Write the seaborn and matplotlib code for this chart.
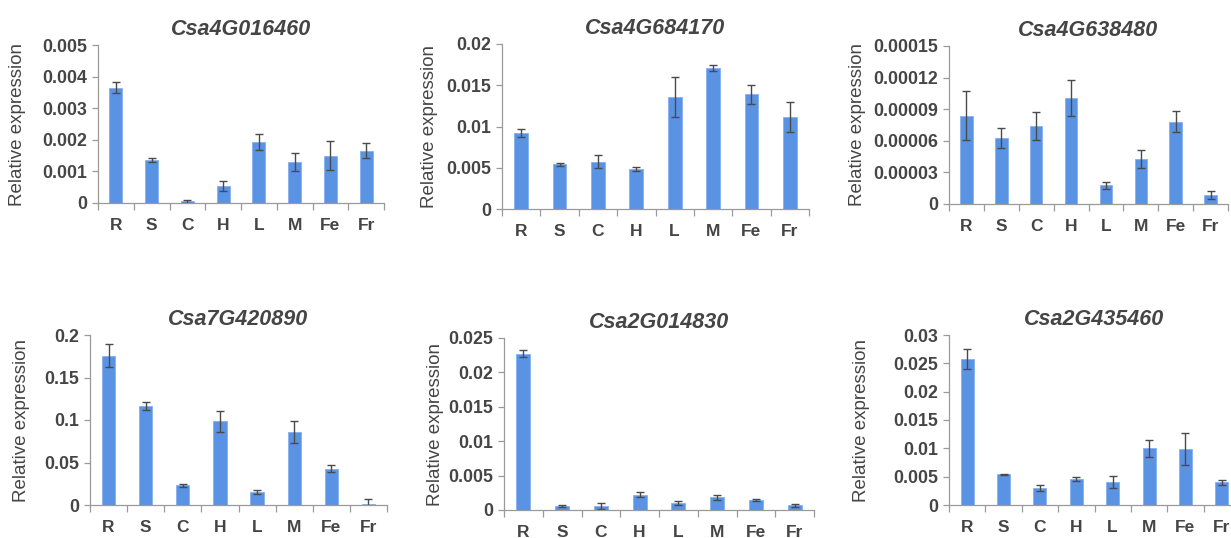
import matplotlib
matplotlib.use("Agg")
import matplotlib.pyplot as plt
import seaborn as sns
import pandas as pd
import numpy as np

sns.set_theme(style="white")
plt.rcParams['font.family'] = ['Liberation Sans', 'DejaVu Sans']

tissues = ["R", "S", "C", "H", "L", "M", "Fe", "Fr"]

genes = ["Csa4G016460", "Csa4G684170", "Csa4G638480",
         "Csa7G420890", "Csa2G014830", "Csa2G435460"]

expr_016460 = [0.00365, 0.00137, 0.00005, 0.00053, 0.00193, 0.00130, 0.00150, 0.00165]
err_016460 = [0.00017, 0.00006, 0.00005, 0.00016, 0.00024, 0.00028, 0.00046, 0.00024]

expr_684170 = [0.00919, 0.00543, 0.00575, 0.00482, 0.01360, 0.01709, 0.01389, 0.01117]
err_684170 = [0.00050, 0.00016, 0.00080, 0.00024, 0.00240, 0.00040, 0.00120, 0.00180]

expr_638480 = [0.0000840, 0.0000625, 0.0000739, 0.0001007, 0.0000177, 0.0000426, 0.0000783, 0.0000085]
err_638480 = [0.0000230, 0.0000092, 0.0000130, 0.0000168, 0.0000035, 0.0000082, 0.0000098, 0.0000038]

expr_420890 = [0.1757, 0.1160, 0.0231, 0.0984, 0.0153, 0.0863, 0.0427, 0.0008]
err_420890 = [0.0133, 0.0047, 0.0020, 0.0120, 0.0027, 0.0130, 0.0043, 0.0059]

expr_014830 = [0.02273, 0.00058, 0.00058, 0.00222, 0.00097, 0.00184, 0.00150, 0.00068]
err_014830 = [0.00050, 0.00010, 0.00050, 0.00034, 0.00030, 0.00040, 0.00015, 0.00024]

expr_435460 = [0.02576, 0.00541, 0.00300, 0.00465, 0.00406, 0.01000, 0.00982, 0.00400]
err_435460 = [0.00180, 0.00010, 0.00060, 0.00035, 0.00100, 0.00150, 0.00280, 0.00047]

y_ticks = [
    ["0", "0.001", "0.002", "0.003", "0.004", "0.005"],
    ["0", "0.005", "0.01", "0.015", "0.02"],
    ["0", "0.00003", "0.00006", "0.00009", "0.00012", "0.00015"],
    ["0", "0.05", "0.1", "0.15", "0.2"],
    ["0", "0.005", "0.01", "0.015", "0.02", "0.025"],
    ["0", "0.005", "0.01", "0.015", "0.02", "0.025", "0.03"],
]

values = [expr_016460, expr_684170, expr_638480, expr_420890, expr_014830, expr_435460]
errors = [err_016460, err_684170, err_638480, err_420890, err_014830, err_435460]

# axes boxes in pixels: left, right, top, bottom
W, H = 1231, 538
boxes = [
    (98, 384, 45, 203),
    (502, 809, 44, 209),
    (949, 1228, 46, 204),
    (90, 387, 335, 505),
    (504, 814, 338, 510),
    (949, 1240, 335, 505),
]
ylabel_x = [18, 430, 857, 22, 435, 862]

text_col = "#454545"
axis_col = "#9a9a9a"
bar_col = "#5b93e4"

fig = plt.figure(figsize=(W / 100, H / 100), dpi=100)

for i in range(6):
    l, r, t, b = boxes[i]
    ax = fig.add_axes([l / W, 1 - b / H, (r - l) / W, (b - t) / H])
    df = pd.DataFrame({"tissue": tissues, "value": values[i]})
    sns.barplot(data=df, x="tissue", y="value", order=tissues, ax=ax,
                color=bar_col, saturation=1, width=0.36, errorbar=None,
                edgecolor="#86b0ee", linewidth=0.6)
    ax.errorbar(np.arange(len(tissues)), values[i], yerr=errors[i], fmt="none",
                ecolor="#4a4a4a", elinewidth=1.0, capsize=3, capthick=1.0)
    ticks = [float(s) for s in y_ticks[i]]
    ax.set_ylim(0, ticks[-1])
    ax.set_xlim(-0.5, len(tissues) - 0.5)
    ax.set_yticks(ticks)
    ax.set_yticklabels(y_ticks[i])
    ax.set_xticks(np.arange(len(tissues)))
    ax.set_xticklabels(tissues)
    ax.set_xticks(np.arange(len(tissues) + 1) - 0.5, minor=True)
    ax.tick_params(axis="x", which="major", length=0, pad=11, labelsize=12.5,
                   labelcolor=text_col)
    ax.tick_params(axis="x", which="minor", length=5, width=0.9, color=axis_col,
                   direction="out", bottom=True)
    ax.tick_params(axis="y", length=4, width=0.9, color=axis_col, direction="out",
                   left=True, pad=4, labelsize=12.8, labelcolor=text_col)
    for lab in ax.get_xticklabels() + ax.get_yticklabels():
        lab.set_fontweight("bold")
    for s in ["top", "right"]:
        ax.spines[s].set_visible(False)
    for s in ["left", "bottom"]:
        ax.spines[s].set_color(axis_col)
        ax.spines[s].set_linewidth(0.9)
    ax.set_xlabel("")
    ax.set_ylabel("")
    ax.set_title(genes[i], fontsize=15.5, fontweight="bold", fontstyle="italic",
                 color=text_col, pad=7)
    fig.text(ylabel_x[i] / W, 1 - ((t + b) / 2) / H, "Relative expression",
             rotation=90, ha="center", va="center", fontsize=13.5,
             color=text_col, fontweight="normal")
    ax.grid(False)

fig.savefig("out.png", dpi=100)
